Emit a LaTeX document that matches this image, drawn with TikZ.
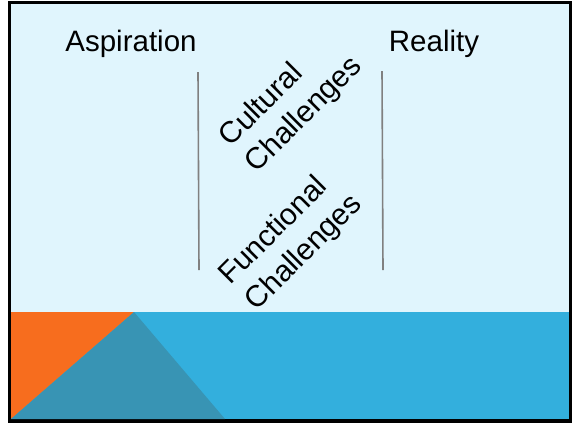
\documentclass[tikz,border=0pt]{standalone}
\usepackage{fontspec}
\setmainfont{Liberation Sans}
\definecolor{bgl}{HTML}{E0F5FD}
\definecolor{band}{HTML}{33AFDD}
\definecolor{orng}{HTML}{F76D1E}
\definecolor{teal}{HTML}{3894B4}
\definecolor{sep}{HTML}{808080}
\begin{document}
\begin{tikzpicture}[x=1pt,y=-1pt,
  title/.style={font=\fontsize{29.5}{33}\selectfont, anchor=center, inner sep=0pt},
  diag/.style={font=\fontsize{30}{36}\selectfont, rotate=45, anchor=base west, inner sep=0pt},
  sepline/.style={draw=sep, line width=1.6pt}]
\useasboundingbox (0,0) rectangle (577,424);
\fill[white] (0,0) rectangle (577,424);
\fill[black] (8,1) rectangle (572,423);
\fill[bgl] (11,3.5) rectangle (569,419);
\fill[band] (11,312) rectangle (569,419);
\fill[orng] (11,312) -- (134,312) -- (11,419) -- cycle;
\fill[teal] (11,419) -- (134,312) -- (225,419) -- cycle;
\node[title] (asp) at (131,44) {Aspiration};
\node[title] (real) at (434,44) {Reality};
\coordinate (l1t) at (198,72);
\coordinate (l1b) at (199,270);
\coordinate (l2t) at (382,71);
\coordinate (l2b) at (383,270);
\draw[sepline] (l1t) -- (l1b);
\draw[sepline] (l2t) -- (l2b);
\node[diag] (cult1) at (230.6,148) {Cultural};
\node[diag] (cult2) at (256.8,174) {Challenges};
\node[diag] (func1) at (230.6,286) {Functional};
\node[diag] (func2) at (256.8,312) {Challenges};
\end{tikzpicture}
\end{document}
